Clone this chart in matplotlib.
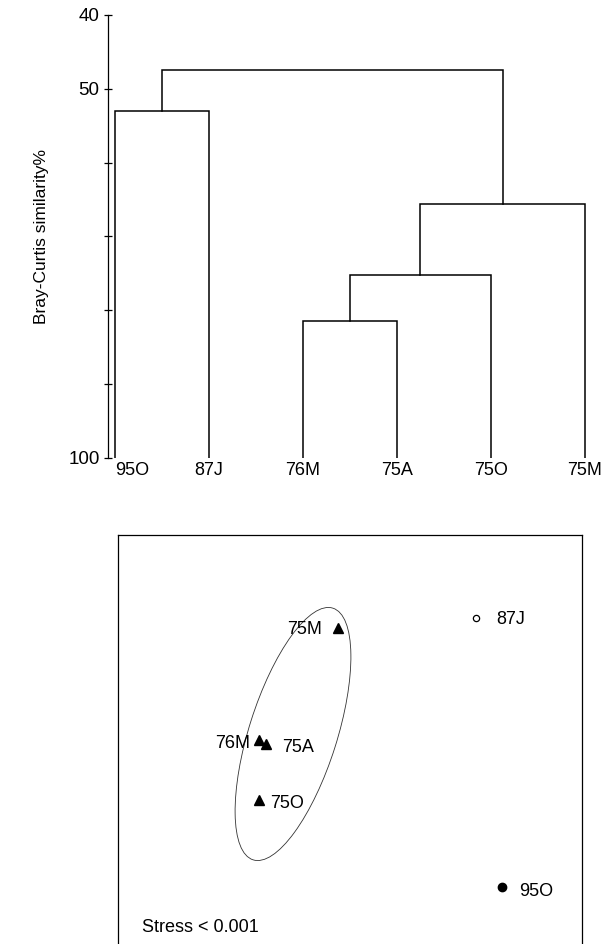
import matplotlib
matplotlib.use("Agg")
import matplotlib.pyplot as plt
from matplotlib.patches import Ellipse

plt.rcParams['font.family'] = ['Liberation Sans', 'DejaVu Sans']

# --- cluster dendrogram (Bray-Curtis similarity %) ---
leaves = ["95O", "87J", "76M", "75A", "75O", "75M"]
# merges: (left node, right node, similarity); nodes 0-5 are leaves, 6+ are merges in order
merges = [
    (0, 1, 53.0),
    (2, 3, 81.4),
    (7, 4, 75.2),
    (8, 5, 65.6),
    (6, 9, 47.4),
]
y_major = [40, 50, 100]
y_minor = [60, 70, 80, 90]

# --- MDS ordination ---
mds_labels = ["75M", "87J", "76M", "75A", "75O", "95O"]
mds_x = [2.20, 3.58, 1.41, 1.48, 1.41, 3.84]
mds_y = [3.18, 3.28, 2.06, 2.02, 1.46, 0.59]
mds_group = ["1970s", "87J", "1970s", "1970s", "1970s", "95O"]
stress_text = "Stress < 0.001"
# 1970s group ellipse: centre, full width, full height, angle
ell_centre = (1.75, 2.12)
ell_width, ell_height, ell_angle = 2.64, 0.88, 72.4

fig = plt.figure(figsize=(6.12, 9.44), dpi=100)
W, H = 612.0, 944.0

# top panel
ax1 = fig.add_axes([108 / W, (H - 458) / H, (600 - 108) / W, (458 - 15) / H])
xpos = {i: float(i) for i in range(len(leaves))}
ypos = {i: 100.0 for i in range(len(leaves))}
for k, (a, b, h) in enumerate(merges):
    node = len(leaves) + k
    ax1.plot([xpos[a], xpos[a], xpos[b], xpos[b]], [ypos[a], h, h, ypos[b]],
             color="black", lw=1.1, solid_joinstyle="miter")
    xpos[node] = (xpos[a] + xpos[b]) / 2
    ypos[node] = h

ax1.set_ylim(100, 40)
ax1.set_xlim(-0.074, 5.16)
ax1.set_yticks(y_major)
ax1.set_yticks(y_minor, minor=True)
ax1.tick_params(axis="y", which="both", direction="inout", length=6, width=0.9,
                labelsize=13.5, pad=3)
ax1.set_xticks(range(len(leaves)))
ax1.set_xticklabels(leaves, fontsize=13)
ax1.get_xticklabels()[0].set_horizontalalignment("left")
ax1.tick_params(axis="x", length=0, pad=3)
for s in ["top", "right", "bottom"]:
    ax1.spines[s].set_visible(False)
ax1.spines["left"].set_linewidth(0.9)
ax1.set_ylabel("Bray-Curtis similarity%", fontsize=12.5)
ax1.yaxis.set_label_coords(-0.12, 0.5)

# bottom panel
ax2 = fig.add_axes([118 / W, (H - 946) / H, 464 / W, 411 / H])
ax2.set_xlim(0, 4.64)
ax2.set_ylim(0, 4.11)
ax2.set_xticks([])
ax2.set_yticks([])
for s in ax2.spines.values():
    s.set_linewidth(0.9)

styles = {
    "1970s": dict(marker="^", ms=7.5, mfc="black", mec="black"),
    "87J": dict(marker="o", ms=4.5, mfc="white", mec="black", mew=0.9),
    "95O": dict(marker="o", ms=6, mfc="black", mec="black"),
}
offsets = {"75M": (-16, -2, "right"), "87J": (20, -2, "left"), "76M": (-9, -4, "right"),
           "75A": (16, -4, "left"), "75O": (11, -3, "left"), "95O": (17, -5, "left")}
for lab, x, y, g in zip(mds_labels, mds_x, mds_y, mds_group):
    ax2.plot([x], [y], linestyle="none", **styles[g])
    dx, dy, ha = offsets[lab]
    ax2.annotate(lab, (x, y), xytext=(dx, dy), textcoords="offset pixels",
                 ha=ha, va="center", fontsize=13)

ax2.add_patch(Ellipse(ell_centre, ell_width, ell_height, angle=ell_angle,
                      fill=False, edgecolor="#333333", lw=0.6))
ax2.text(0.052, 0.046, stress_text, transform=ax2.transAxes, ha="left", va="center", fontsize=13)

fig.savefig("out.png", dpi=100)
